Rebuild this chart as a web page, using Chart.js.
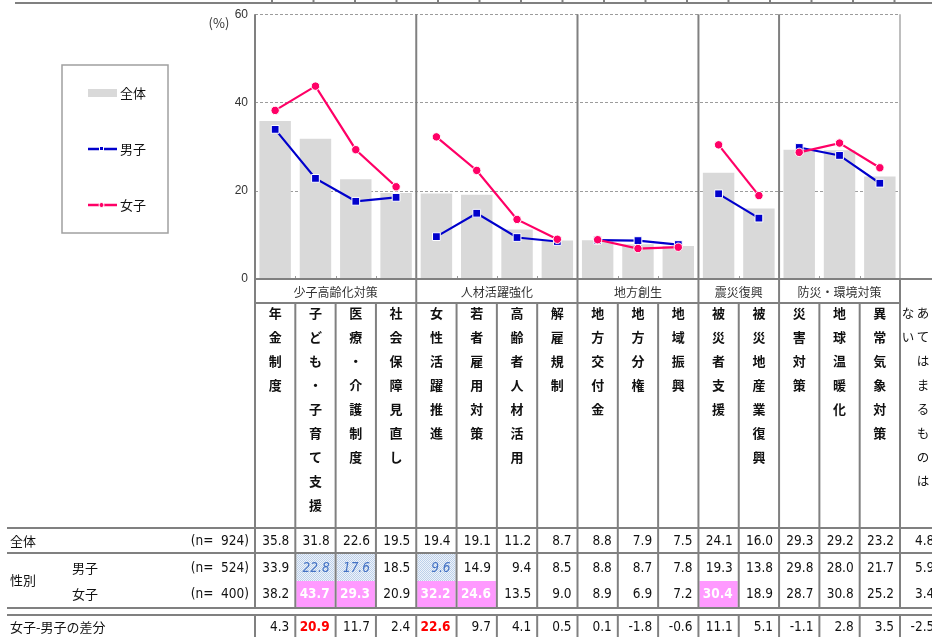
<!DOCTYPE html>
<html lang="ja">
<head>
<meta charset="utf-8">
<title>重要だと思う政策課題</title>
<script src="https://cdn.jsdelivr.net/npm/chart.js@4"></script>
<style>
  html, body { margin: 0; padding: 0; background: #fff; }
  #wrap { width: 932px; height: 637px; position: relative; overflow: hidden; }
  canvas { display: block; }
</style>
</head>
<body>
<div id="wrap"><canvas id="chart" width="932" height="637"></canvas></div>
<script>
// ---- data ----
const groupNames = ['少子高齢化対策', '人材活躍強化', '地方創生', '震災復興', '防災・環境対策'];
const groupSizes = [4, 4, 3, 2, 3];
const categories = [
  '年金制度', '子ども・子育て支援', '医療・介護制度', '社会保障見直し',
  '女性活躍推進', '若者雇用対策', '高齢者人材活用', '解雇規制',
  '地方交付金', '地方分権', '地域振興',
  '被災者支援', '被災地産業復興',
  '災害対策', '地球温暖化', '異常気象対策'
];
const totalValues  = [35.8, 31.8, 22.6, 19.5, 19.4, 19.1, 11.2, 8.7, 8.8, 7.9, 7.5, 24.1, 16.0, 29.3, 29.2, 23.2];
const maleValues   = [33.9, 22.8, 17.6, 18.5, 9.6, 14.9, 9.4, 8.5, 8.8, 8.7, 7.8, 19.3, 13.8, 29.8, 28.0, 21.7];
const femaleValues = [38.2, 43.7, 29.3, 20.9, 32.2, 24.6, 13.5, 9.0, 8.9, 6.9, 7.2, 30.4, 18.9, 28.7, 30.8, 25.2];
const diffValues   = [4.3, 20.9, 11.7, 2.4, 22.6, 9.7, 4.1, 0.5, 0.1, -1.8, -0.6, 11.1, 5.1, -1.1, 2.8, 3.5];
const noneLabel = 'あてはまるものはない';
const noneValues = [4.8, 5.9, 3.4, -2.5];   // 全体, 男子, 女子, 差分
const rowLabels = ['全体', '男子', '女子'];
const sampleSizes = [924, 524, 400];
const genderLabel = '性別';
const diffLabel = '女子-男子の差分';
const maleLowCells = [1, 2, 4];
const femaleHighCells = [1, 2, 4, 5, 11];
const diffHighCells = [1, 4];
const yMin = 0, yMax = 60, yStep = 20;

// ---- styles ----
const FONT_JP = "'Noto Sans CJK JP', 'Noto Sans', sans-serif";
const FONT_NUM = "'DejaVu Sans Condensed', 'DejaVu Sans', sans-serif";
const FONT_AXIS = "'Liberation Sans Narrow', 'Liberation Sans', sans-serif";
const NUM_SIZE = 13.5;
const RULE = '#808080';
const INK = '#111111';
const BAR = '#d9d9d9';
const MALE = '#0000cc';
const FEMALE = '#ff0066';

// table layout (y positions of rows)
const TB = { groupBottom: 303, charTop: 313, charStep: 24, top: 528, split: 553, mid: 581, bottom: 608, diffTop: 615, labelLeft: 7 };
const rowY = [541, 568, 594];
const diffY = 627;

// last index of each group: line segments are not drawn across groups
const groupEnds = [];
groupSizes.reduce((acc, n) => { groupEnds.push(acc + n - 1); return acc + n; }, 0);
const splitGroups = c => groupEnds.includes(c.p0DataIndex) ? 'rgba(0,0,0,0)' : undefined;

function hline(ctx, x1, x2, y, w, c) {
  ctx.beginPath(); ctx.moveTo(x1, y); ctx.lineTo(x2, y);
  ctx.lineWidth = w; ctx.strokeStyle = c; ctx.stroke();
}
function vline(ctx, x, y1, y2, w, c) {
  ctx.beginPath(); ctx.moveTo(x, y1); ctx.lineTo(x, y2);
  ctx.lineWidth = w; ctx.strokeStyle = c; ctx.stroke();
}
function dotPattern(ctx) {
  const p = document.createElement('canvas');
  p.width = 2; p.height = 2;
  const g = p.getContext('2d');
  g.fillStyle = '#eef3fa'; g.fillRect(0, 0, 2, 2);
  g.fillStyle = '#bcd0ea'; g.fillRect(0, 0, 1, 1); g.fillRect(1, 1, 1, 1);
  return ctx.createPattern(p, 'repeat');
}

const surveyTable = {
  id: 'surveyTable',
  beforeDatasetsDraw(chart) {
    const { ctx, chartArea: a, scales: { y } } = chart;
    ctx.save();
    ctx.setLineDash([3, 2]);
    y.ticks.forEach(t => {
      if (t.value === yMin) return;
      const py = Math.round(y.getPixelForValue(t.value)) + 0.5;
      hline(ctx, a.left, a.right, py, 1, '#9c9c9c');
    });
    ctx.restore();
  },
  afterDraw(chart) {
    const { ctx, chartArea: a, scales: { x, y } } = chart;
    const W = chart.width, H = chart.height;
    const n = categories.length;
    const edges = [a.left];
    for (let i = 1; i < n; i++) edges.push((x.getPixelForValue(i - 1) + x.getPixelForValue(i)) / 2);
    edges.push(a.right);
    const colW = (a.right - a.left) / n;
    edges.push(a.right + colW);
    const y0 = y.getPixelForValue(0);
    const groupEdges = [0];
    groupSizes.reduce((acc, s) => { groupEdges.push(acc + s); return acc + s; }, 0);

    ctx.save();

    // frame rule of the preceding block
    hline(ctx, 15, W, 3, 2, RULE);
    for (let k = 0; k < 16; k++) vline(ctx, 272 + k * 41.5, 0, 3, 2, RULE);

    // highlighted cells
    const pat = dotPattern(ctx);
    maleLowCells.forEach(i => {
      ctx.fillStyle = pat;
      ctx.fillRect(edges[i] + 1, TB.split + 1, edges[i + 1] - edges[i] - 2, TB.mid - TB.split);
    });
    femaleHighCells.forEach(i => {
      ctx.fillStyle = '#ff99ff';
      ctx.fillRect(edges[i] + 1, TB.mid, edges[i + 1] - edges[i] - 2, TB.bottom - TB.mid - 1);
    });

    // small ticks between bars
    for (let i = 1; i < n; i++) {
      if (groupEdges.includes(i)) continue;
      vline(ctx, Math.round(edges[i]) + 0.5, y0 - 3, y0, 1, '#9a9a9a');
    }
    // plot right edge
    vline(ctx, a.right, a.top, y0, 1.5, '#a8a8a8');
    // zero line
    hline(ctx, a.left - 1, W, y0, 2, RULE);

    // group separators and outer edges
    groupEdges.forEach(i => {
      const top = (i === n) ? y0 : a.top;
      vline(ctx, edges[i], top, TB.bottom, 2, RULE);
      vline(ctx, edges[i], TB.diffTop, H, 2, RULE);
    });
    // inner column rules of the table
    for (let i = 1; i < n; i++) {
      if (groupEdges.includes(i)) continue;
      vline(ctx, edges[i], TB.groupBottom, TB.bottom, 2, RULE);
      vline(ctx, edges[i], TB.diffTop, H, 2, RULE);
    }
    vline(ctx, edges[n + 1], y0, TB.bottom, 2, RULE);
    vline(ctx, edges[n + 1], TB.diffTop, H, 2, RULE);
    // horizontal rules
    hline(ctx, a.left, a.right, TB.groupBottom, 2, RULE);
    [TB.top, TB.split, TB.bottom, TB.diffTop].forEach(py => hline(ctx, TB.labelLeft, W, py, 2, RULE));

    // group names
    ctx.textBaseline = 'middle';
    ctx.textAlign = 'center';
    ctx.fillStyle = '#333';
    ctx.font = `12px ${FONT_JP}`;
    groupNames.forEach((g, k) => {
      ctx.fillText(g, (edges[groupEdges[k]] + edges[groupEdges[k + 1]]) / 2, (y0 + TB.groupBottom) / 2 + 1);
    });

    // vertical category names
    ctx.fillStyle = INK;
    ctx.font = `bold 13px ${FONT_JP}`;
    categories.forEach((c, i) => {
      const cx = x.getPixelForValue(i);
      Array.from(c).forEach((ch, j) => ctx.fillText(ch, cx, TB.charTop + j * TB.charStep));
    });
    ctx.font = `12.5px ${FONT_JP}`;
    const noneChars = Array.from(noneLabel);
    const firstCol = noneChars.slice(0, 8), secondCol = noneChars.slice(8);
    firstCol.forEach((ch, j) => ctx.fillText(ch, a.right + 23, TB.charTop + j * TB.charStep));
    secondCol.forEach((ch, j) => ctx.fillText(ch, a.right + 8, TB.charTop + j * TB.charStep));

    // row labels
    ctx.textAlign = 'left';
    ctx.fillStyle = INK;
    ctx.font = `13px ${FONT_JP}`;
    ctx.fillText(rowLabels[0], 10, rowY[0]);
    ctx.fillText(genderLabel, 10, (TB.split + TB.bottom) / 2);
    ctx.fillText(rowLabels[1], 72, rowY[1]);
    ctx.fillText(rowLabels[2], 72, rowY[2]);
    ctx.fillText(diffLabel, 10, diffY);
    ctx.textAlign = 'right';
    ctx.font = `${NUM_SIZE}px ${FONT_NUM}`;
    sampleSizes.forEach((s, r) => ctx.fillText(`(n=  ${s})`, a.left - 6, rowY[r]));

    // values
    const cell = (v, i, py, style) => {
      ctx.font = `${style.weight || ''} ${NUM_SIZE}px ${FONT_NUM}`;
      ctx.fillStyle = style.color || INK;
      ctx.fillText(v.toFixed(1), edges[i + 1] - 6, py);
    };
    for (let i = 0; i < n; i++) {
      cell(totalValues[i], i, rowY[0], {});
      cell(maleValues[i], i, rowY[1], maleLowCells.includes(i) ? { weight: 'italic', color: '#4472c4' } : {});
      cell(femaleValues[i], i, rowY[2], femaleHighCells.includes(i) ? { weight: 'bold', color: '#ffffff' } : {});
      cell(diffValues[i], i, diffY, diffHighCells.includes(i) ? { weight: 'bold', color: '#ff0000' } : {});
    }
    [rowY[0], rowY[1], rowY[2], diffY].forEach((py, r) => cell(noneValues[r], n, py, {}));

    // unit label
    ctx.textAlign = 'center';
    ctx.fillStyle = '#333';
    ctx.font = `13px ${FONT_JP}`;
    ctx.fillText('(%)', 219, 23);

    // legend
    const ds = chart.data.datasets;
    ctx.strokeStyle = '#a0a0a0';
    ctx.lineWidth = 1.5;
    ctx.strokeRect(62, 65, 106, 168);
    const ly = [93, 149, 205];
    ctx.fillStyle = ds[0].backgroundColor;
    ctx.fillRect(88, ly[0] - 4, 29, 8);
    hline(ctx, 88, 117, ly[1], 2.5, ds[1].borderColor);
    ctx.fillStyle = '#fff'; ctx.fillRect(99, ly[1] - 3, 5, 5);
    ctx.fillStyle = ds[1].borderColor; ctx.fillRect(100, ly[1] - 2, 3, 3);
    hline(ctx, 88, 117, ly[2], 2.5, ds[2].borderColor);
    ctx.beginPath(); ctx.arc(101.5, ly[2], 2.5, 0, Math.PI * 2);
    ctx.fillStyle = ds[2].borderColor; ctx.fill();
    ctx.lineWidth = 1; ctx.strokeStyle = '#fff'; ctx.stroke();
    ctx.textAlign = 'left';
    ctx.fillStyle = INK;
    ctx.font = `13px ${FONT_JP}`;
    ds.forEach((d, k) => ctx.fillText(d.label, 120, ly[k]));

    ctx.restore();
  }
};

new Chart(document.getElementById('chart'), {
  type: 'bar',
  data: {
    labels: categories,
    datasets: [
      {
        type: 'bar', label: rowLabels[0], data: totalValues,
        backgroundColor: BAR, barPercentage: 0.78, categoryPercentage: 1, order: 3
      },
      {
        type: 'line', label: rowLabels[1], data: maleValues,
        borderColor: MALE, borderWidth: 2.2,
        pointStyle: 'rect', pointRadius: 5.5, pointBackgroundColor: MALE,
        pointBorderColor: '#ffffff', pointBorderWidth: 1,
        segment: { borderColor: splitGroups }, order: 2
      },
      {
        type: 'line', label: rowLabels[2], data: femaleValues,
        borderColor: FEMALE, borderWidth: 2.2,
        pointStyle: 'circle', pointRadius: 4.2, pointBackgroundColor: FEMALE,
        pointBorderColor: '#ffffff', pointBorderWidth: 1,
        segment: { borderColor: splitGroups }, order: 1
      }
    ]
  },
  options: {
    responsive: false,
    animation: false,
    devicePixelRatio: 1,
    layout: { padding: { left: 215, right: 32, top: 12, bottom: 358 } },
    plugins: { legend: { display: false }, tooltip: { enabled: false } },
    scales: {
      x: { display: false, offset: true },
      y: {
        min: yMin, max: yMax,
        ticks: { stepSize: yStep, padding: 7, color: '#333', font: { family: FONT_AXIS, size: 12 } },
        grid: { display: false, drawTicks: false },
        border: { display: false },
        afterFit(scale) { scale.width = 40; }
      }
    }
  },
  plugins: [surveyTable]
});
</script>
</body>
</html>
